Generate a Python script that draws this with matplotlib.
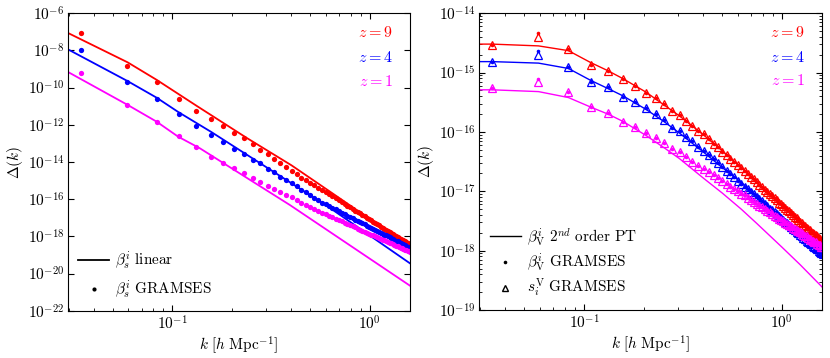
import numpy as np
import matplotlib
matplotlib.use('Agg')
import matplotlib.pyplot as plt
from matplotlib.lines import Line2D
from matplotlib.ticker import LogLocator, FuncFormatter, NullFormatter, NullLocator

plt.rcParams['mathtext.fontset'] = 'cm'
plt.rcParams['font.family'] = 'serif'
plt.rcParams['font.serif'] = ['DejaVu Serif']

# k bins [h/Mpc]
k = [0.0344, 0.0589, 0.0834, 0.108, 0.1325, 0.1571, 0.1816, 0.2061, 0.2307, 0.2552,
     0.2798, 0.3043, 0.3288, 0.3534, 0.3779, 0.4025, 0.427, 0.4515, 0.4761, 0.5006,
     0.5252, 0.5497, 0.5742, 0.5988, 0.6233, 0.6479, 0.6724, 0.6969, 0.7215, 0.746,
     0.7706, 0.7951, 0.8196, 0.8442, 0.8687, 0.8933, 0.9178, 0.9423, 0.9669, 0.9914,
     1.016, 1.0405, 1.065, 1.0896, 1.1141, 1.1387, 1.1632, 1.1877, 1.2123, 1.2368,
     1.2614, 1.2859, 1.3104, 1.335, 1.3595, 1.3841, 1.4086, 1.4331, 1.4577, 1.4822,
     1.5068, 1.5313, 1.5558, 1.5804, 1.605]

redshifts = ['9', '4', '1']
colors = ['#ff0000', '#0000ff', '#ff00ff']

# ---- left panel: beta_s (log10 values) ----
left_gram_z9 = [-7.08, -8.83, -9.71, -10.59, -11.24, -11.69, -12.06, -12.46, -12.72, -13.05,
                -13.35, -13.59, -13.85, -14.07, -14.28, -14.47, -14.64, -14.84, -14.97, -15.11,
                -15.25, -15.38, -15.50, -15.62, -15.74, -15.85, -15.96, -16.06, -16.16, -16.25,
                -16.35, -16.44, -16.52, -16.61, -16.69, -16.77, -16.85, -16.92, -17.00, -17.07,
                -17.14, -17.21, -17.27, -17.34, -17.40, -17.47, -17.53, -17.59, -17.65, -17.70,
                -17.76, -17.81, -17.87, -17.92, -17.97, -18.02, -18.07, -18.12, -18.17, -18.22,
                -18.27, -18.31, -18.36, -18.40, -18.45]
left_gram_z4 = [-7.97, -9.71, -10.60, -11.43, -12.06, -12.55, -12.91, -13.30, -13.59, -13.89,
                -14.07, -14.38, -14.55, -14.79, -14.95, -15.14, -15.31, -15.48, -15.64, -15.79,
                -15.93, -16.07, -16.18, -16.28, -16.37, -16.47, -16.55, -16.64, -16.72, -16.80,
                -16.88, -16.95, -17.02, -17.10, -17.16, -17.23, -17.29, -17.36, -17.42, -17.48,
                -17.54, -17.59, -17.65, -17.70, -17.75, -17.81, -17.86, -17.91, -17.95, -18.00,
                -18.05, -18.09, -18.14, -18.18, -18.23, -18.27, -18.31, -18.35, -18.39, -18.43,
                -18.47, -18.51, -18.55, -18.58, -18.62]
left_gram_z1 = [-9.19, -10.95, -11.85, -12.60, -13.18, -13.71, -14.04, -14.34, -14.61, -14.88,
                -15.09, -15.29, -15.45, -15.60, -15.75, -15.90, -16.04, -16.18, -16.30, -16.42,
                -16.53, -16.64, -16.74, -16.82, -16.90, -16.98, -17.06, -17.13, -17.20, -17.27,
                -17.34, -17.40, -17.46, -17.52, -17.58, -17.64, -17.69, -17.75, -17.80, -17.85,
                -17.90, -17.95, -18.00, -18.04, -18.09, -18.13, -18.18, -18.22, -18.26, -18.30,
                -18.34, -18.38, -18.42, -18.46, -18.50, -18.53, -18.57, -18.60, -18.64, -18.67,
                -18.71, -18.74, -18.77, -18.80, -18.83]

k_lin_z9 = [0.025, 0.0595, 0.0834, 0.133, 0.238, 0.402, 0.615, 1.65]
lin_z9 = [-6.67, -8.64, -9.58, -10.98, -12.70, -14.18, -15.52, -18.65]
k_lin_z4 = [0.025, 0.0595, 0.0834, 0.1073, 0.158, 0.615, 1.65]
lin_z4 = [-7.52, -9.65, -10.54, -11.31, -12.39, -16.40, -19.55]
k_lin_z1 = [0.025, 0.0595, 0.0834, 0.1073, 0.138, 0.394, 1.65]
lin_z1 = [-8.72, -10.93, -11.83, -12.64, -13.26, -16.31, -20.75]

# ---- right panel: beta_V and s_V (log10 values) ----
right_beta_z9 = [-14.53, -14.34, -14.61, -14.88, -14.97, -15.11, -15.22, -15.34, -15.43, -15.53,
                 -15.64, -15.71, -15.81, -15.90, -15.98, -16.04, -16.12, -16.20, -16.26, -16.33,
                 -16.39, -16.45, -16.51, -16.56, -16.61, -16.66, -16.71, -16.76, -16.80, -16.85,
                 -16.89, -16.93, -16.97, -17.01, -17.05, -17.08, -17.12, -17.15, -17.19, -17.22,
                 -17.25, -17.28, -17.31, -17.34, -17.37, -17.40, -17.43, -17.45, -17.48, -17.51,
                 -17.53, -17.56, -17.58, -17.61, -17.63, -17.65, -17.68, -17.70, -17.72, -17.74,
                 -17.76, -17.79, -17.81, -17.83, -17.85]
right_beta_z4 = [-14.82, -14.64, -14.90, -15.15, -15.25, -15.41, -15.50, -15.60, -15.70, -15.80,
                 -15.93, -15.99, -16.08, -16.16, -16.25, -16.32, -16.39, -16.46, -16.53, -16.59,
                 -16.65, -16.71, -16.76, -16.82, -16.87, -16.92, -16.96, -17.01, -17.05, -17.09,
                 -17.13, -17.17, -17.21, -17.25, -17.29, -17.32, -17.35, -17.39, -17.42, -17.45,
                 -17.48, -17.51, -17.54, -17.57, -17.60, -17.63, -17.65, -17.68, -17.71, -17.73,
                 -17.76, -17.78, -17.80, -17.83, -17.85, -17.87, -17.89, -17.92, -17.94, -17.96,
                 -17.98, -18.00, -18.02, -18.04, -18.06]
right_beta_z1 = [-15.26, -15.11, -15.33, -15.58, -15.68, -15.83, -15.91, -16.02, -16.11, -16.19,
                 -16.29, -16.33, -16.43, -16.51, -16.57, -16.62, -16.67, -16.72, -16.78, -16.83,
                 -16.87, -16.92, -16.96, -17.00, -17.04, -17.07, -17.11, -17.14, -17.18, -17.21,
                 -17.24, -17.27, -17.30, -17.33, -17.35, -17.38, -17.41, -17.43, -17.46, -17.48,
                 -17.50, -17.53, -17.55, -17.57, -17.59, -17.61, -17.63, -17.65, -17.67, -17.69,
                 -17.71, -17.73, -17.75, -17.76, -17.78, -17.80, -17.82, -17.83, -17.85, -17.86,
                 -17.88, -17.90, -17.91, -17.93, -17.94]
right_s_z9 = [-14.53, -14.40, -14.61, -14.88, -14.97, -15.11, -15.22, -15.34, -15.43, -15.53,
              -15.64, -15.71, -15.81, -15.90, -15.98, -16.04, -16.12, -16.20, -16.26, -16.33,
              -16.39, -16.45, -16.51, -16.56, -16.61, -16.66, -16.71, -16.76, -16.80, -16.85,
              -16.89, -16.93, -16.97, -17.01, -17.05, -17.08, -17.12, -17.15, -17.19, -17.22,
              -17.25, -17.28, -17.31, -17.34, -17.37, -17.40, -17.43, -17.45, -17.48, -17.51,
              -17.53, -17.56, -17.58, -17.61, -17.63, -17.65, -17.68, -17.70, -17.72, -17.74,
              -17.76, -17.79, -17.81, -17.83, -17.85]
right_s_z4 = [-14.82, -14.71, -14.90, -15.15, -15.25, -15.41, -15.50, -15.60, -15.70, -15.80,
              -15.93, -15.99, -16.08, -16.16, -16.25, -16.32, -16.39, -16.46, -16.53, -16.59,
              -16.65, -16.71, -16.76, -16.82, -16.87, -16.92, -16.96, -17.01, -17.05, -17.09,
              -17.13, -17.17, -17.21, -17.25, -17.29, -17.32, -17.35, -17.39, -17.42, -17.45,
              -17.48, -17.51, -17.54, -17.57, -17.60, -17.63, -17.65, -17.68, -17.71, -17.73,
              -17.76, -17.78, -17.80, -17.83, -17.85, -17.87, -17.89, -17.92, -17.94, -17.96,
              -17.98, -18.00, -18.02, -18.04, -18.06]
right_s_z1 = [-15.26, -15.16, -15.33, -15.58, -15.68, -15.83, -15.91, -16.02, -16.11, -16.19,
              -16.29, -16.33, -16.43, -16.51, -16.57, -16.62, -16.67, -16.72, -16.78, -16.83,
              -16.87, -16.92, -16.96, -17.00, -17.04, -17.07, -17.11, -17.14, -17.18, -17.21,
              -17.24, -17.27, -17.30, -17.33, -17.35, -17.38, -17.41, -17.43, -17.46, -17.48,
              -17.50, -17.53, -17.55, -17.57, -17.59, -17.61, -17.63, -17.65, -17.67, -17.69,
              -17.71, -17.73, -17.75, -17.76, -17.78, -17.80, -17.82, -17.83, -17.85, -17.86,
              -17.88, -17.90, -17.91, -17.93, -17.94]

k_pt = [0.025, 0.0344, 0.0589, 0.0834, 0.108, 0.1325, 0.157, 0.206, 0.255, 0.304,
        0.402, 0.50, 0.623, 0.746, 0.87, 1.0, 1.24, 1.605]
pt_z9 = [-14.52, -14.52, -14.55, -14.63, -14.83, -14.97, -15.10, -15.33, -15.55, -15.73,
         -16.05, -16.32, -16.60, -16.85, -17.06, -17.24, -17.52, -17.84]
pt_z4 = [-14.815, -14.815, -14.84, -14.93, -15.13, -15.27, -15.39, -15.62, -15.83, -16.02,
         -16.34, -16.60, -16.85, -17.07, -17.27, -17.46, -17.75, -18.12]
pt_z1 = [-15.29, -15.29, -15.32, -15.42, -15.58, -15.70, -15.82, -16.06, -16.27, -16.45,
         -16.78, -17.03, -17.30, -17.54, -17.75, -17.94, -18.24, -18.62]

left_lines = [(k_lin_z9, lin_z9), (k_lin_z4, lin_z4), (k_lin_z1, lin_z1)]
left_dots = [left_gram_z9, left_gram_z4, left_gram_z1]
right_lines = [pt_z9, pt_z4, pt_z1]
right_dots = [right_beta_z9, right_beta_z4, right_beta_z1]
right_tris = [right_s_z9, right_s_z4, right_s_z1]

fig = plt.figure(figsize=(8.3, 3.58), dpi=100)
ax1 = fig.add_axes([0.0816, 0.132, 0.4124, 0.831])
ax2 = fig.add_axes([0.5775, 0.134, 0.4132, 0.829])

fmt = FuncFormatter(lambda v, pos: r'$10^{%d}$' % int(round(np.log10(v))))

for i in range(3):
    kl, yl = left_lines[i]
    ax1.plot(kl, 10.0 ** np.array(yl), color=colors[i], lw=1.3)
    ax1.plot(k, 10.0 ** np.array(left_dots[i]), 'o', color=colors[i], ms=3.8, mew=0)
    ax2.plot(k_pt, 10.0 ** np.array(right_lines[i]), color=colors[i], lw=1.0)
    ax2.plot(k, 10.0 ** np.array(right_dots[i]), 'o', color=colors[i], ms=2.6, mew=0)
    ax2.plot(k, 10.0 ** np.array(right_tris[i]), '^', mfc='none', mec=colors[i], ms=5.4, mew=0.9)

for ax in (ax1, ax2):
    ax.set_xscale('log')
    ax.set_yscale('log')
    ax.set_xlim(0.0296, 1.6)
    ax.xaxis.set_major_locator(LogLocator(base=10))
    ax.xaxis.set_minor_locator(LogLocator(base=10, subs=np.arange(2, 10)))
    ax.xaxis.set_major_formatter(fmt)
    ax.xaxis.set_minor_formatter(NullFormatter())
    ax.tick_params(which='both', direction='in', top=True, right=True, labelsize=11, pad=2.5)
    ax.tick_params(which='major', length=4)
    ax.tick_params(which='minor', length=2)
    ax.set_xlabel(r'$k\ [h\ \mathrm{Mpc}^{-1}]$', fontsize=11, labelpad=1)
    ax.set_ylabel(r'$\Delta(k)$', fontsize=11, labelpad=2)
    for i, z in enumerate(redshifts):
        ax.text(0.95, [0.934, 0.85, 0.772][i], r'$z=%s$' % z, color=colors[i],
                transform=ax.transAxes, ha='right', va='center', fontsize=11.5)

ax1.set_ylim(1e-22, 1e-6)
ax1.set_yticks(10.0 ** np.arange(-22, -5, 2))
ax1.yaxis.set_minor_locator(NullLocator())
ax1.yaxis.set_major_formatter(fmt)

ax2.set_ylim(1e-19, 1e-14)
ax2.yaxis.set_major_locator(LogLocator(base=10, numticks=10))
ax2.yaxis.set_minor_locator(LogLocator(base=10, subs=np.arange(2, 10), numticks=20))
ax2.yaxis.set_major_formatter(fmt)
ax2.yaxis.set_minor_formatter(NullFormatter())

h1 = [Line2D([], [], color='k', lw=1.3),
      Line2D([], [], ls='none', marker='o', color='k', ms=3.0, mew=0)]
ax1.legend(h1, [r'$\beta^i_s\ \mathrm{linear}$', r'$\beta^i_s\ \mathrm{GRAMSES}$'],
           loc='lower left', frameon=False, fontsize=11, handlelength=2.0,
           handletextpad=0.4, labelspacing=0.45, borderaxespad=0.3)

h2 = [Line2D([], [], color='k', lw=1.0),
      Line2D([], [], ls='none', marker='o', color='k', ms=2.6, mew=0),
      Line2D([], [], ls='none', marker='^', mfc='none', mec='k', ms=4.6, mew=1.0)]
ax2.legend(h2, [r'$\beta^i_{\rm V}\ 2^{nd}\ \mathrm{order\ PT}$',
                r'$\beta^i_{\rm V}\ \mathrm{GRAMSES}$',
                r'$s_i^{\rm V}\ \mathrm{GRAMSES}$'],
           loc='lower left', frameon=False, fontsize=11, handlelength=2.0,
           handletextpad=0.4, labelspacing=0.25, borderaxespad=0.3)

fig.savefig('out.png', dpi=100)
